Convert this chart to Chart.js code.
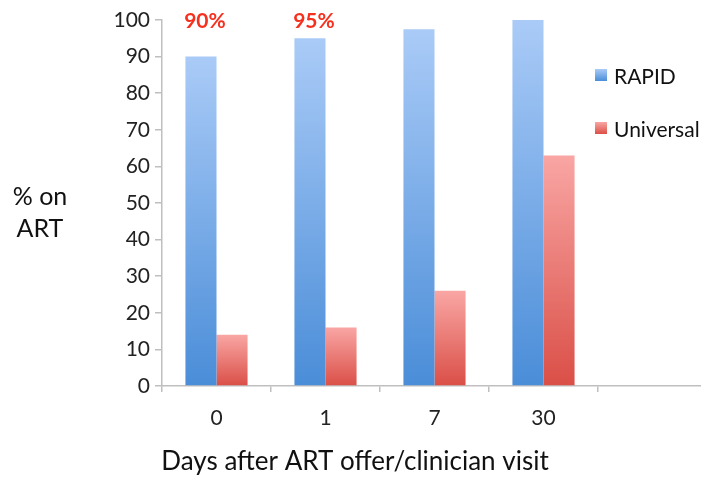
<!DOCTYPE html>
<html>
<head>
<meta charset="utf-8">
<script src="https://cdn.jsdelivr.net/npm/chart.js@4/dist/chart.umd.min.js"></script>
<style>
  html, body { margin: 0; padding: 0; background: #fff; overflow: hidden; }
  #wrap { width: 707px; height: 478px; }
</style>
</head>
<body>
<div id="wrap"><canvas id="chart" width="707" height="478"></canvas></div>
<script>
const categories = ['0', '1', '7', '30', ''];
const rapidValues = [90, 95, 97.5, 100, null];
const universalValues = [14, 16, 26, 63, null];
const topLabels = ['90%', '95%', '', '', ''];
const yTitleLines = ['% on', 'ART'];
const xTitle = 'Days after ART offer/clinician visit';

const FONT = 'Lato';
const AXIS_GREY = '#BFBFBF';

const palettes = {
    RAPID: ['#AACBF7', '#4A8DD8'],
    Universal: ['#F9A6A4', '#DA4F47']
};

function barGradient(name) {
    return function(ctx) {
        const chart = ctx.chart;
        const y = chart.scales && chart.scales.y;
        if(!chart.chartArea || !y || ctx.raw == null) return palettes[name][1];
        const top = y.getPixelForValue(ctx.raw);
        const bottom = y.getPixelForValue(0);
        const g = chart.ctx.createLinearGradient(0, top, 0, bottom);
        g.addColorStop(0, palettes[name][0]);
        g.addColorStop(1, palettes[name][1]);
        return g;
    };
}

// titles, red percentage labels and the legend drawn straight onto the canvas
const overlay = {
    id: 'overlay',
    afterDraw(chart) {
        const c = chart.ctx;
        const y = chart.scales.y;
        c.save();

        // red labels above the RAPID bars
        const meta = chart.getDatasetMeta(0);
        c.fillStyle = '#F5301E';
        c.font = 'bold 21px ' + FONT;
        c.textAlign = 'center';
        c.textBaseline = 'middle';
        topLabels.forEach((t, i) => {
            if(!t) return;
            c.fillText(t, meta.data[i].x + 4, y.getPixelForValue(100) + 1);
        });

        // y title, horizontal on two lines
        c.fillStyle = '#111';
        c.font = '25px ' + FONT;
        yTitleLines.forEach((t, i) => c.fillText(t, 40, 197 + i * 32));

        // x title
        c.font = '26px ' + FONT;
        c.fillText(xTitle, 355, 462);

        // legend
        c.textAlign = 'left';
        c.font = '21px ' + FONT;
        chart.data.datasets.forEach((ds, i) => {
            const ly = 75 + i * 53;
            const g = c.createLinearGradient(0, ly - 6, 0, ly + 6);
            g.addColorStop(0, palettes[ds.label][0]);
            g.addColorStop(1, palettes[ds.label][1]);
            c.fillStyle = g;
            c.fillRect(595, ly - 6, 12, 12);
            c.fillStyle = '#111';
            c.fillText(ds.label, 614, ly + 2);
        });
        c.restore();
    }
};

new Chart(document.getElementById('chart'), {
    type: 'bar',
    data: {
        labels: categories,
        datasets: [
            { label: 'RAPID', data: rapidValues, backgroundColor: barGradient('RAPID') },
            { label: 'Universal', data: universalValues, backgroundColor: barGradient('Universal') }
        ]
    },
    options: {
        responsive: false,
        animation: false,
        layout: { padding: { top: 20, left: 0, right: 0, bottom: 0 } },
        datasets: { bar: { categoryPercentage: 0.57, barPercentage: 1 } },
        plugins: { legend: { display: false }, tooltip: { enabled: false } },
        scales: {
            x: {
                border: { color: AXIS_GREY, width: 1.5 },
                grid: { offset: true, drawOnChartArea: false, color: AXIS_GREY, tickLength: 6, lineWidth: 1.5 },
                ticks: { color: '#222', font: { family: FONT, size: 21 }, padding: 14 },
                afterFit(scale) { scale.height = 92; }
            },
            y: {
                min: 0,
                max: 100,
                border: { color: AXIS_GREY, width: 1.5 },
                grid: { drawOnChartArea: false, color: AXIS_GREY, tickLength: 7, lineWidth: 1.5 },
                ticks: { stepSize: 10, color: '#222', font: { family: FONT, size: 21 }, padding: 5 },
                afterFit(scale) { scale.width = 162; }
            }
        }
    },
    plugins: [overlay]
});
</script>
</body>
</html>
